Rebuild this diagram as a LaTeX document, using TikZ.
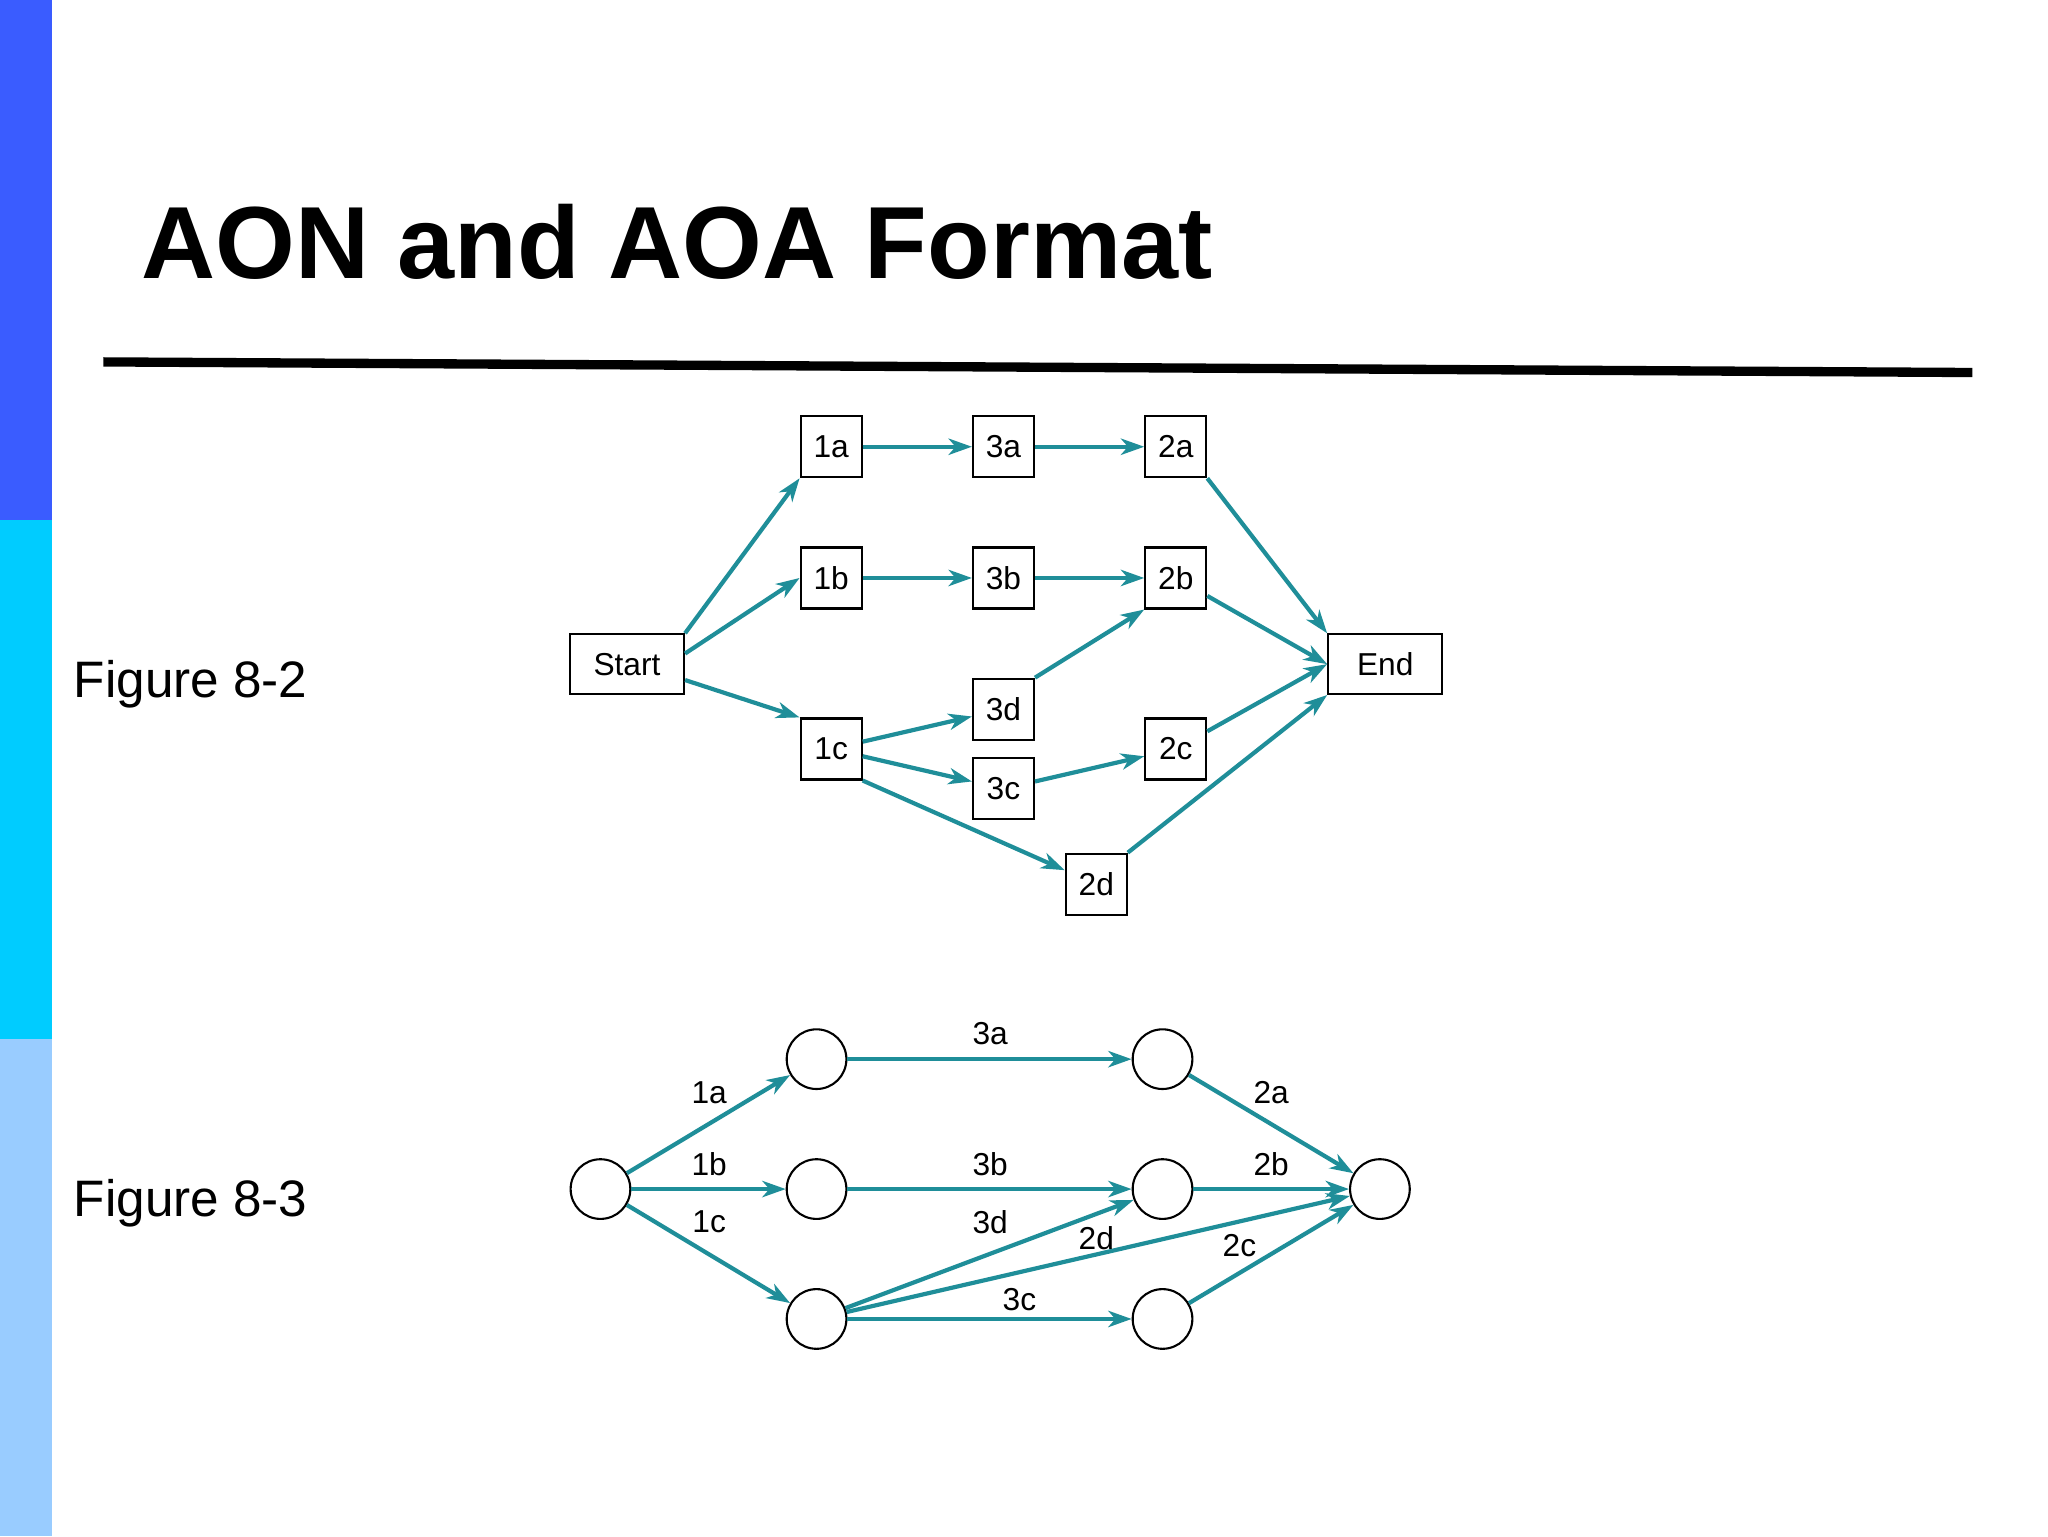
\documentclass[tikz,border=0pt]{standalone}
\usepackage{fontspec}
\setmainfont{Liberation Sans}
\usetikzlibrary{arrows.meta}
\definecolor{teal1}{HTML}{1F8E99}
\definecolor{barA}{HTML}{3A5CFF}
\definecolor{barB}{HTML}{00CCFF}
\definecolor{barC}{HTML}{99CCFF}
\begin{document}
\begin{tikzpicture}[x=0.01cm,y=-0.01cm,
  bx/.style={draw,line width=0.45pt,minimum width=0.46cm,minimum height=0.46cm,inner sep=0pt,font=\fontsize{6.8}{8}\selectfont},
  wbx/.style={bx,minimum width=0.86cm,minimum height=0.45cm},
  ev/.style={circle,draw,line width=0.45pt,minimum size=0.45cm,inner sep=0pt},
  ar/.style={draw=teal1,line width=0.9pt,-{Stealth[length=5pt,width=3.5pt,inset=1.5pt]}},
  lb/.style={font=\fontsize{6.8}{8}\selectfont,inner sep=0pt},
  fig/.style={font=\fontsize{11}{13}\selectfont,anchor=west,inner sep=0pt}]
\useasboundingbox (0,0) rectangle (1545,1159);
\fill[white] (0,0) rectangle (1545,1159);
\fill[barA] (0,0) rectangle (39,392);
\fill[barB] (0,392) rectangle (39,784);
\fill[barC] (0,784) rectangle (39,1159);
\node[anchor=base west,inner sep=0pt,font=\fontsize{22}{26}\selectfont\bfseries] (title) at (106,210) {AON and AOA Format};
\draw[line width=2pt] (78,273) coordinate (l1) -- (1488,281) coordinate (l2);
\node[fig] (f2) at (55,516) {Figure 8-2};
\node[fig] (f3) at (55,908) {Figure 8-3};
% AON
\node[wbx] (st) at (473,501) {Start};
\node[wbx] (en) at (1045,501) {End};
\node[bx] (a1) at (627,337) {1a};
\node[bx] (a3) at (757,337) {3a};
\node[bx] (a2) at (887,337) {2a};
\node[bx] (b1) at (627,436) {1b};
\node[bx] (b3) at (757,436) {3b};
\node[bx] (b2) at (887,436) {2b};
\node[bx] (d3) at (757,535) {3d};
\node[bx] (c1) at (627,565) {1c};
\node[bx] (c2) at (887,565) {2c};
\node[bx] (c3) at (757,595) {3c};
\node[bx] (d2) at (827,667) {2d};
\draw[ar] (st.north east) -- (a1.south west);
\draw[ar] (st.east) ++(0,-8) coordinate (s1) (s1) -- (b1.west);
\draw[ar] (st.east) ++(0,12) coordinate (s2) (s2) -- (c1.north west);
\draw[ar] (a1) -- (a3);
\draw[ar] (a3) -- (a2);
\draw[ar] (b1) -- (b3);
\draw[ar] (b3) -- (b2);
\draw[ar] (c1) -- (d3);
\draw[ar] (c1) -- (c3);
\draw[ar] (c1.south east) -- (d2);
\draw[ar] (d3.north east) -- (b2.south west);
\draw[ar] (c3) -- (c2);
\draw[ar] (a2.south east) -- (en.north west);
\draw[ar] (b2) -- (en.west);
\draw[ar] (c2) -- (en.west);
\draw[ar] (d2.north east) -- (en.south west);
% AOA
\node[ev] (A) at (453,897) {};
\node[ev] (B1) at (616,799) {};
\node[ev] (B2) at (616,897) {};
\node[ev] (B3) at (616,995) {};
\node[ev] (C1) at (877,799) {};
\node[ev] (C2) at (877,897) {};
\node[ev] (C3) at (877,995) {};
\node[ev] (D) at (1041,897) {};
\draw[ar] (A) -- (B1);
\draw[ar] (A) -- (B2);
\draw[ar] (A) -- (B3);
\draw[ar] (B1) -- (C1);
\draw[ar] (B2) -- (C2);
\draw[ar] (B3) -- (C2);
\draw[ar] (B3) -- (C3);
\draw[ar] (B3) -- (D);
\draw[ar] (C1) -- (D);
\draw[ar] (C2) -- (D);
\draw[ar] (C3) -- (D);
\node[lb] (t1a) at (535,824) {1a};
\node[lb] (t1b) at (535,878) {1b};
\node[lb] (t1c) at (535,922) {1c};
\node[lb] (t3a) at (747,780) {3a};
\node[lb] (t3b) at (747,878) {3b};
\node[lb] (t3d) at (747,922) {3d};
\node[lb] (t2d) at (827,934) {2d};
\node[lb] (t3c) at (769,980) {3c};
\node[lb] (t2a) at (959,824) {2a};
\node[lb] (t2b) at (959,878) {2b};
\node[lb] (t2c) at (935,940) {2c};
\end{tikzpicture}
\end{document}
